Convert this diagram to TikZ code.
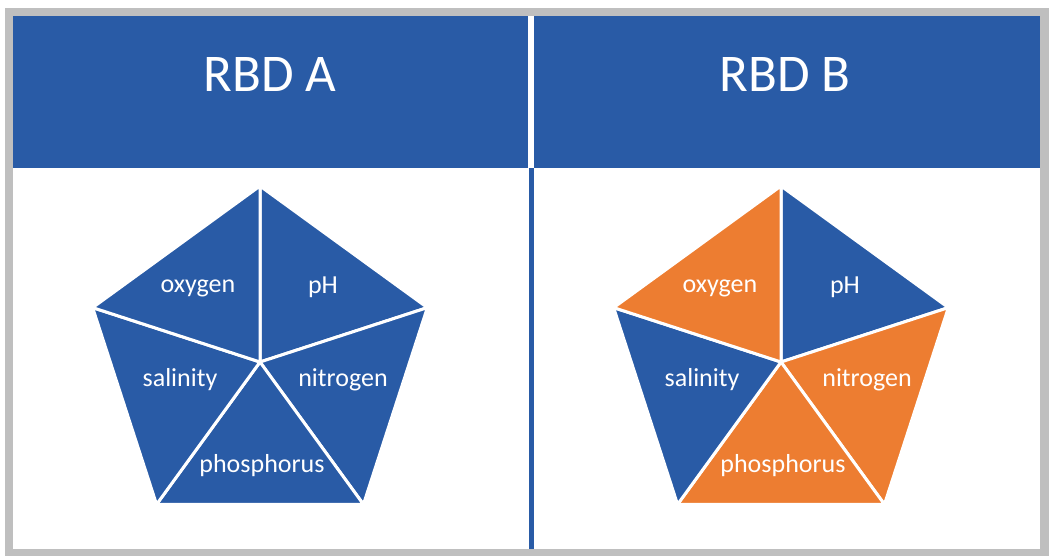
\documentclass[tikz,border=0pt]{standalone}
\usepackage{fontspec}
\setmainfont{Carlito}
\definecolor{rbdblue}{RGB}{41,91,166}
\definecolor{rbdorange}{RGB}{237,125,49}
\definecolor{rbdgray}{RGB}{191,191,191}
\tikzset{
  wedge/.style={draw=white, line width=3pt, line join=round},
  lbl/.style={text=white, font=\fontsize{26}{30}\selectfont, inner sep=0pt, anchor=base},
  hdr/.style={text=white, font=\fontsize{53}{60}\selectfont, inner sep=0pt},
}
\begin{document}
\begin{tikzpicture}[x=1pt,y=-1pt]
\useasboundingbox (0,0) rectangle (1050,555);
\fill[white] (0,0) rectangle (1050,555);
% frame
\fill[rbdgray] (5,8) rectangle (1049,556);
\fill[white] (13,16) rectangle (1040,549);
% headers
\fill[rbdblue] (13,16) rectangle (528,168);
\fill[rbdblue] (534,16) rectangle (1040,168);
\fill[rbdblue] (528.5,168) rectangle (533.5,549);
\node[hdr] (ha) at (270,74) {RBD A};
\node[hdr] (hb) at (785,74) {RBD B};
% pentagon A  (wedges: pH, nitrogen, phosphorus, salinity, oxygen)
\foreach \i/\c in {0/rbdblue,1/rbdblue,2/rbdblue,3/rbdblue,4/rbdblue}{
  \filldraw[wedge, fill=\c] (260,362) -- +({270+72*\i}:176) -- +({342+72*\i}:176) -- cycle;
}
% pentagon B
\foreach \i/\c in {0/rbdblue,1/rbdorange,2/rbdorange,3/rbdblue,4/rbdorange}{
  \filldraw[wedge, fill=\c] (781,362) -- +({270+72*\i}:176) -- +({342+72*\i}:176) -- cycle;
}
% labels A
\node[lbl] (aox) at (198,292) {oxygen};
\node[lbl] (aph) at (323,293) {pH};
\node[lbl] (asa) at (180,386) {salinity};
\node[lbl] (ani) at (343,386) {nitrogen};
\node[lbl] (apo) at (262,472) {phosphorus};
% labels B
\node[lbl] (box) at (720,292) {oxygen};
\node[lbl] (bph) at (845,293) {pH};
\node[lbl] (bsa) at (702,386) {salinity};
\node[lbl] (bni) at (867,386) {nitrogen};
\node[lbl] (bpo) at (783,472) {phosphorus};
\end{tikzpicture}
\end{document}
